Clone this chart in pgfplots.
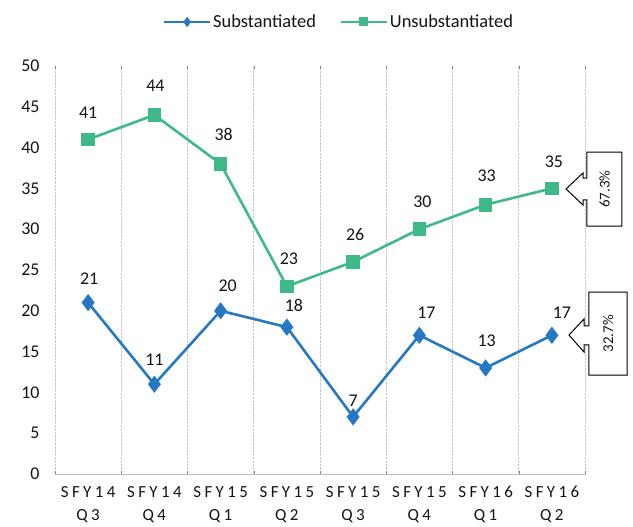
\documentclass[border=0pt]{standalone}
\usepackage{pgfplots}
\usepackage{pgfplotstable}
\pgfplotsset{compat=1.18}
\usepackage{fontspec}
\setmainfont{Carlito}
\newfontfamily\spaced[LetterSpace=20]{Carlito}

\definecolor{subblue}{RGB}{38,120,195}
\definecolor{unsgreen}{RGB}{63,185,138}
\definecolor{txt}{RGB}{20,20,20}

% x = quarter index, dx/dy = label offset in bp
\pgfplotstableread{
x y dx dy
0 21 1 24
1 11 0 25
2 20 7 25
3 18 7 22
4 7 0 16
5 17 7 23
6 13 1 27
7 17 10 23
}\subst
\pgfplotstableread{
x y dx dy
0 41 0 27
1 44 1 29
2 38 3 29
3 23 2 28
4 26 2 27
5 30 3 27
6 33 1 29
7 35 2 27
}\unsubst

\begin{document}
\begin{tikzpicture}
\path[use as bounding box] (-55bp,-53bp) rectangle (578bp,474bp);
\begin{axis}[
  at={(0,0)}, anchor=south west,
  scale only axis, width=530bp, height=408bp,
  xmin=-0.5, xmax=7.5, ymin=0, ymax=50,
  clip=false,
  axis line style={draw=none},
  major tick length=0,
  xtick={0,...,7},
  xticklabels={{SFY14\\Q3},{SFY14\\Q4},{SFY15\\Q1},{SFY15\\Q2},{SFY15\\Q3},{SFY15\\Q4},{SFY16\\Q1},{SFY16\\Q2}},
  xticklabel style={align=center, font=\fontsize{17}{23}\spaced, text=txt, yshift=-9bp},
  minor xtick={-0.5,0.5,...,7.5},
  xminorgrids, minor grid style={black!22, densely dotted, line width=0.8bp},
  ytick={0,5,...,50},
  yticklabel style={font=\fontsize{18}{20}\selectfont, text=txt, xshift=-12bp},
  /pgf/number format/assume math mode=true,
  legend columns=2,
  legend style={draw=none, at={(0.536,1.108)}, anchor=center,
    font=\fontsize{18.5}{20}\selectfont, text=txt,
    /tikz/every even column/.append style={column sep=22bp}},
  legend image code/.code={\draw[mark repeat=2,mark phase=2,#1,line width=2bp,mark size=3.5bp]
    plot coordinates {(0bp,0bp) (23bp,0bp) (46bp,0bp)};},
  nodes near coords,
  visualization depends on={\thisrow{dx} \as \dx},
  visualization depends on={\thisrow{dy} \as \dy},
  every node near coord/.append style={anchor=center, xshift=\dx bp, yshift=\dy bp,
    font=\fontsize{18}{20}\selectfont, text=txt},
]
\draw[black!25] (rel axis cs:0,0) -- (rel axis cs:1,0);

\addplot[subblue, line width=2.6bp, mark=diamond*, mark size=6.5bp, mark options={solid}]
  table[x=x, y=y] {\subst};
\addlegendentry{Substantiated}
\addplot[unsgreen, line width=2.6bp, mark=square*, mark size=5.5bp, mark options={solid}]
  table[x=x, y=y] {\unsubst};
\addlegendentry{Unsubstantiated}

% callouts
\draw[black, fill=white, line width=1bp]
  (axis cs:7.530,39.46) -- (axis cs:8.058,39.46) -- (axis cs:8.058,30.39) -- (axis cs:7.530,30.39)
  -- (axis cs:7.530,33.58) -- (axis cs:7.470,33.58) -- (axis cs:7.470,32.97) -- (axis cs:7.213,34.93)
  -- (axis cs:7.470,36.89) -- (axis cs:7.470,36.27) -- (axis cs:7.530,36.27) -- cycle;
\node[rotate=90, font=\fontsize{15}{16}\selectfont, text=txt] at (axis cs:7.794,34.9) {67.3\%};
\draw[black, fill=white, line width=1bp]
  (axis cs:7.560,22.30) -- (axis cs:8.134,22.30) -- (axis cs:8.134,12.13) -- (axis cs:7.560,12.13)
  -- (axis cs:7.560,15.81) -- (axis cs:7.485,15.81) -- (axis cs:7.485,14.95) -- (axis cs:7.258,17.03)
  -- (axis cs:7.485,19.00) -- (axis cs:7.485,18.14) -- (axis cs:7.560,18.14) -- cycle;
\node[rotate=90, font=\fontsize{15}{16}\selectfont, text=txt] at (axis cs:7.847,17.2) {32.7\%};
\end{axis}
\end{tikzpicture}
\end{document}
